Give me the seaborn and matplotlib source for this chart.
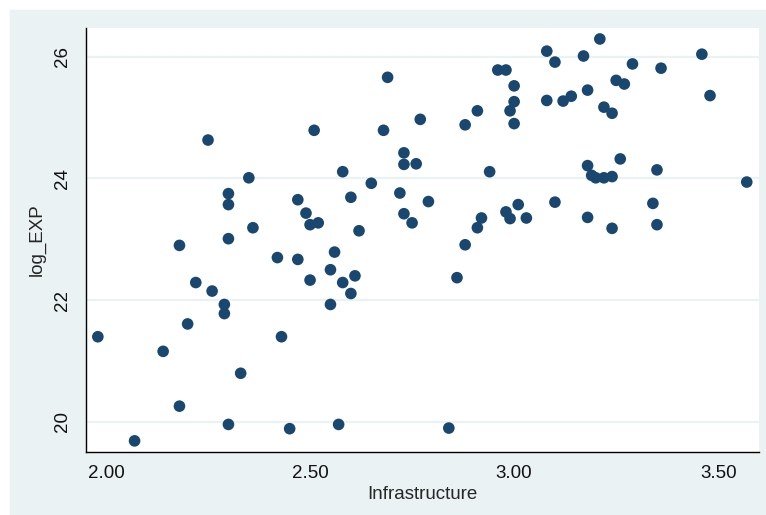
import pandas as pd
import matplotlib
matplotlib.use("Agg")
import matplotlib.pyplot as plt
from matplotlib.patches import Rectangle
import seaborn as sns

# values
infrastructure = [1.98, 2.07, 2.14, 2.18, 2.18, 2.20, 2.22, 2.25, 2.26, 2.29,
                  2.29, 2.30, 2.30, 2.30, 2.30, 2.33, 2.35, 2.36, 2.42, 2.43,
                  2.45, 2.47, 2.47, 2.49, 2.50, 2.50, 2.51, 2.52, 2.55, 2.55,
                  2.56, 2.57, 2.58, 2.58, 2.60, 2.60, 2.61, 2.62, 2.65, 2.68,
                  2.69, 2.72, 2.73, 2.73, 2.73, 2.75, 2.76, 2.77, 2.79, 2.84,
                  2.86, 2.88, 2.88, 2.91, 2.91, 2.92, 2.94, 2.96, 2.98, 2.98,
                  2.99, 2.99, 3.00, 3.00, 3.00, 3.01, 3.03, 3.08, 3.08, 3.10,
                  3.10, 3.12, 3.14, 3.17, 3.18, 3.18, 3.18, 3.19, 3.20, 3.21,
                  3.22, 3.22, 3.24, 3.24, 3.24, 3.25, 3.26, 3.27, 3.29, 3.34,
                  3.35, 3.35, 3.36, 3.46, 3.48, 3.57]
log_exp = [21.40, 19.69, 21.16, 22.90, 20.26, 21.61, 22.29, 24.63, 22.15, 21.93,
           21.78, 23.75, 23.57, 23.01, 19.96, 20.80, 24.01, 23.19, 22.70, 21.40,
           19.89, 23.65, 22.67, 23.43, 23.24, 22.33, 24.79, 23.27, 22.50, 21.93,
           22.79, 19.96, 24.11, 22.29, 23.69, 22.11, 22.40, 23.14, 23.92, 24.79,
           25.66, 23.76, 24.42, 24.23, 23.42, 23.27, 24.24, 24.97, 23.62, 19.90,
           22.37, 24.88, 22.91, 25.11, 23.19, 23.35, 24.11, 25.78, 25.78, 23.45,
           25.11, 23.34, 25.52, 25.26, 24.90, 23.57, 23.35, 26.09, 25.28, 25.91,
           23.61, 25.27, 25.35, 26.01, 25.45, 24.21, 23.36, 24.05, 24.01, 26.29,
           25.17, 24.01, 25.07, 24.03, 23.18, 25.61, 24.32, 25.55, 25.88, 23.59,
           24.14, 23.24, 25.81, 26.04, 25.36, 23.94]
x_ticks = [2.0, 2.5, 3.0, 3.5]
x_tick_labels = ["2.00", "2.50", "3.00", "3.50"]
y_ticks = [20, 22, 24, 26]

df = pd.DataFrame({"Infrastructure": infrastructure, "log_EXP": log_exp})

sns.set_style("white")
plt.rcParams["font.family"] = ["Liberation Sans", "DejaVu Sans"]

bg = "#eaf2f3"
fig = plt.figure(figsize=(7.66, 5.15), dpi=100, facecolor="white")
# Stata-style outer panel, with a thin white strip at top and left
fig.patches.append(Rectangle((10 / 766, 0), 1, 1 - 10 / 515,
                             transform=fig.transFigure, color=bg, zorder=-10))

ax = fig.add_axes([86 / 766, 63 / 515, 673 / 766, 424 / 515])
ax.set_facecolor("white")

sns.scatterplot(data=df, x="Infrastructure", y="log_EXP", ax=ax,
                color="#1a476f", s=70, edgecolor="none", zorder=3)

ax.set_xlim(1.951, 3.600)
ax.set_ylim(19.507, 26.47)
ax.set_xticks(x_ticks)
ax.set_xticklabels(x_tick_labels)
ax.set_yticks(y_ticks)
ax.set_yticklabels([str(v) for v in y_ticks], rotation=90, va="center")

ax.grid(axis="y", color=bg, linewidth=1.6, zorder=0)
ax.grid(axis="x", visible=False)

for side in ["top", "right"]:
    ax.spines[side].set_visible(False)
for side in ["left", "bottom"]:
    ax.spines[side].set_color("black")
    ax.spines[side].set_linewidth(1.0)

ax.tick_params(axis="both", direction="out", length=5.5, width=0.8,
               color="#333333", labelsize=13.5, labelcolor="#111111")
ax.tick_params(axis="x", pad=4)
ax.tick_params(axis="y", pad=5)

ax.set_xlabel("Infrastructure", fontsize=13.5, labelpad=3)
ax.set_ylabel("log_EXP", fontsize=13.5, labelpad=6)

fig.savefig("out.png", dpi=100, facecolor=fig.get_facecolor())
